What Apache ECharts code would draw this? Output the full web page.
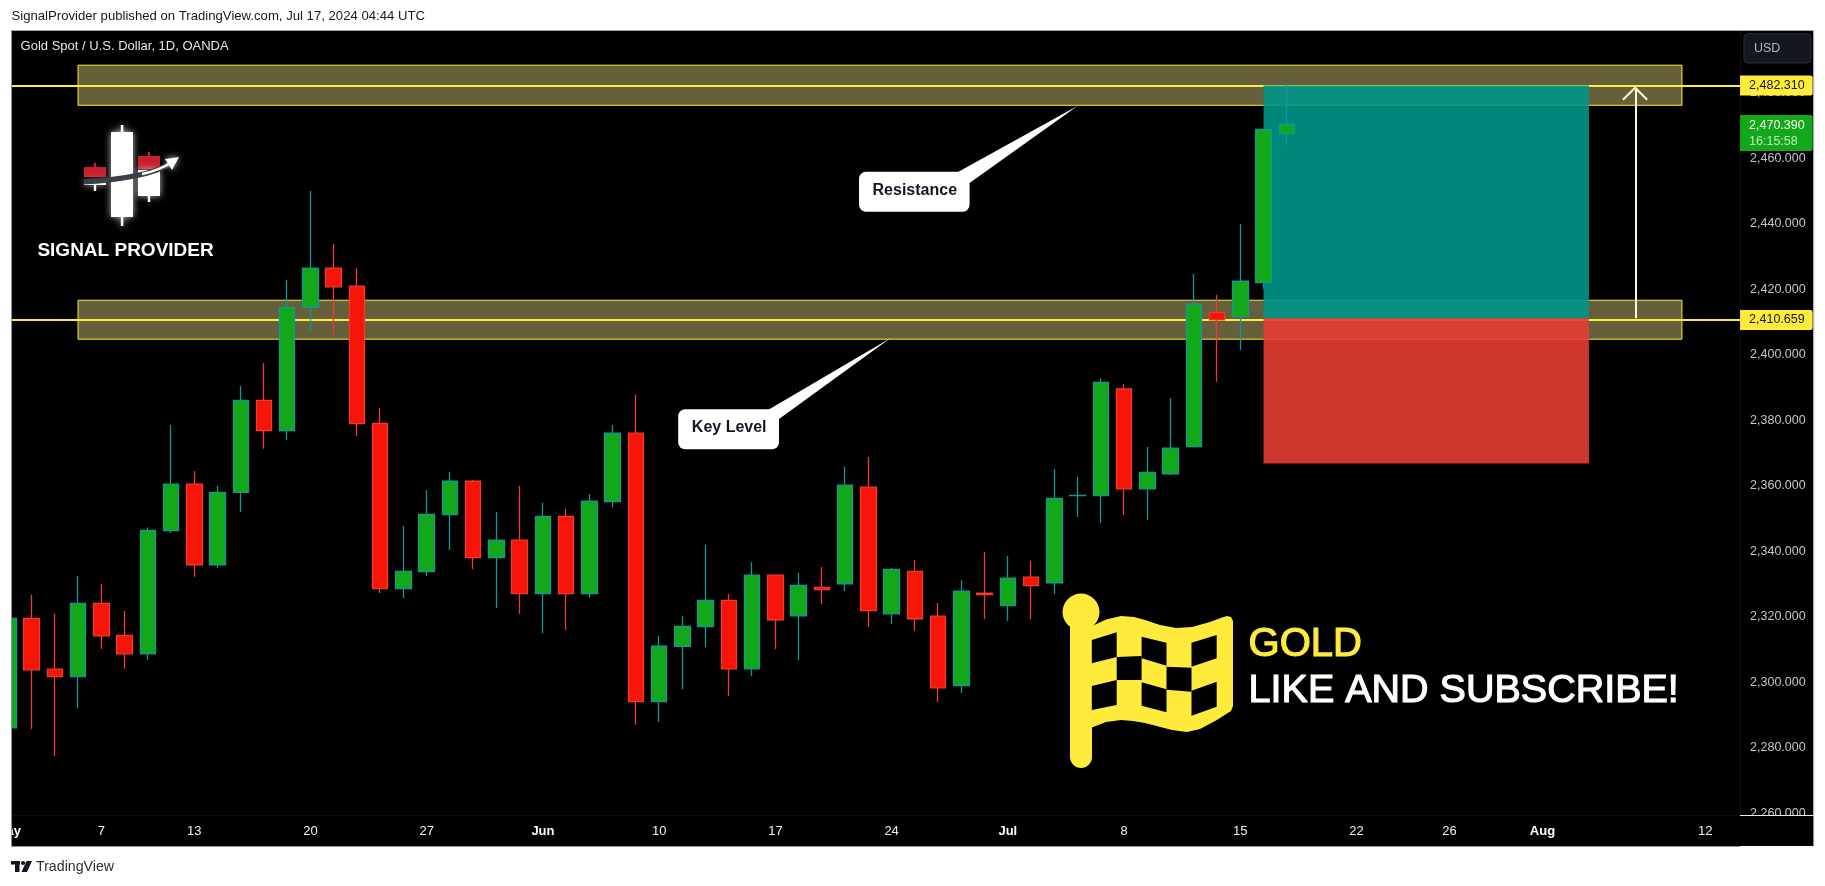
<!DOCTYPE html>
<html>
<head>
<meta charset="utf-8">
<style>html,body{margin:0;padding:0;background:#fff;overflow:hidden}#chart{width:1825px;height:886px}</style>
<script src="https://cdn.jsdelivr.net/npm/echarts@6/dist/echarts.min.js"></script>
</head>
<body>
<div id="chart"></div>
<script>
const dates = ['May 1','May 2','May 3','May 6','May 7','May 8','May 9','May 10','May 13','May 14','May 15','May 16','May 17',
 'May 20','May 21','May 22','May 23','May 24','May 27','May 28','May 29','May 30','May 31',
 'Jun 3','Jun 4','Jun 5','Jun 6','Jun 7','Jun 10','Jun 11','Jun 12','Jun 13','Jun 14',
 'Jun 17','Jun 18','Jun 19','Jun 20','Jun 21','Jun 24','Jun 25','Jun 26','Jun 27','Jun 28',
 'Jul 1','Jul 2','Jul 3','Jul 4','Jul 5','Jul 8','Jul 9','Jul 10','Jul 11','Jul 12',
 'Jul 15','Jul 16','Jul 17','Jul 18','Jul 19','Jul 22','Jul 23','Jul 24','Jul 25','Jul 26',
 'Jul 29','Jul 30','Jul 31','Aug 1','Aug 2','Aug 5','Aug 6','Aug 7','Aug 8','Aug 9','Aug 12','Aug 13'];

const tickDates  = ['May 1','May 7','May 13','May 20','May 27','Jun 3','Jun 10','Jun 17','Jun 24','Jul 1','Jul 8','Jul 15','Jul 22','Jul 26','Aug 1','Aug 12'];
const tickLabels = ['May','7','13','20','27','Jun','10','17','24','Jul','8','15','22','26','Aug','12'];
const priceTicks = [2260,2280,2300,2320,2340,2360,2380,2400,2420,2440,2460,2480];

// open, close, low, high
const ohlc = [
 [2286.1,2319.5,2286.1,2319.5],[2319.5,2303.8,2285.7,2326.7],[2304.0,2301.7,2277.5,2320.9],[2301.7,2324.1,2292.1,2332.5],
 [2324.1,2314.2,2310.2,2330.0],[2314.3,2308.7,2304.1,2321.8],[2308.7,2346.4,2306.8,2347.3],[2346.3,2360.5,2345.6,2378.6],
 [2360.5,2335.9,2332.2,2364.5],[2335.9,2358.0,2334.9,2360.0],[2358.0,2386.1,2352.0,2390.5],[2386.1,2376.9,2371.3,2397.5],
 [2376.9,2414.5,2374.0,2422.9],[2414.5,2426.5,2407.3,2450.1],[2426.5,2420.8,2406.2,2433.9],[2421.0,2379.0,2375.2,2426.5],
 [2379.1,2328.6,2327.3,2383.8],[2328.6,2333.9,2325.7,2347.7],[2333.8,2351.3,2332.5,2358.7],[2351.2,2361.4,2340.4,2364.2],
 [2361.4,2338.1,2334.6,2361.8],[2338.1,2343.4,2322.7,2352.0],[2343.4,2327.1,2320.9,2360.0],[2327.1,2350.7,2315.0,2354.8],
 [2350.7,2327.1,2316.0,2352.9],[2327.1,2355.3,2326.0,2357.5],[2355.2,2376.1,2353.5,2378.6],[2376.1,2294.1,2287.0,2387.8],
 [2294.1,2311.0,2287.9,2314.1],[2311.0,2317.1,2297.9,2320.2],[2317.0,2325.0,2310.8,2341.9],[2325.0,2304.1,2295.8,2327.0],
 [2304.1,2332.7,2301.9,2336.7],[2332.7,2319.1,2310.2,2332.7],[2320.3,2329.6,2306.8,2333.4],[2329.0,2328.3,2323.9,2335.2],
 [2330.1,2360.2,2327.9,2365.8],[2359.6,2321.9,2316.9,2368.8],[2320.9,2334.5,2317.8,2334.9],[2333.9,2319.4,2315.7,2337.3],
 [2320.2,2298.3,2294.0,2324.2],[2299.0,2327.8,2296.7,2331.2],[2327.2,2326.8,2319.3,2339.8],[2323.4,2331.8,2318.7,2338.6],
 [2332.1,2329.5,2319.3,2337.0],[2330.4,2356.2,2327.0,2365.1],[2357.0,2357.1,2350.5,2362.7],[2357.0,2391.6,2348.7,2392.9],
 [2389.6,2359.1,2351.1,2391.1],[2359.1,2364.1,2349.6,2371.9],[2363.7,2371.5,2363.3,2386.8],[2372.0,2415.5,2371.7,2424.7],
 [2413.0,2410.7,2391.8,2418.3],[2411.7,2422.5,2401.5,2440.0],[2422.1,2468.9,2420.2,2468.9],[2467.6,2470.39,2464.1,2482.5]
];

const resistanceZone = [2488.5, 2476.25];
const keyLevelZone   = [2416.7, 2404.8];
const zoneDates      = ['May 6', 'Aug 9'];
const levels         = [2482.31, 2410.659];
const lastPrice      = 2470.39;
const positionDates  = ['Jul 16', 'Aug 5'];
const positionPrices = [2482.31, 2411.2, 2366.8];   // target, entry, stop
const arrowDate      = 'Aug 7';
const arrowPrices    = [2411.2, 2481.5];

const fmt = v => v.toLocaleString('en-US', {minimumFractionDigits: 3, maximumFractionDigits: 3});
const UI = '"Liberation Sans", Arial, sans-serif';
const YEL = '#ffeb3b';

function txt(text, x, y, size, fill, extra) {
  return {type:'text', z:6, style:Object.assign({text, x, y, fill,
    font:(extra&&extra.weight||'normal')+' '+size+'px '+UI,
    textAlign:(extra&&extra.align)||'left', textVerticalAlign:'middle'},(extra&&extra.style)||{})};
}
const rect = (x,y,w,h,fill,z,extra) => ({type:'rect', z:z||6, shape:{x,y,width:w,height:h,r:(extra&&extra.r)||0},
  style:Object.assign({fill},(extra&&extra.style)||{})});
const poly = (points,fill,z,style) => ({type:'polygon', z:z||6, shape:{points}, style:Object.assign({fill},style||{})});
const glow = {shadowColor:'rgba(255,255,255,0.75)', shadowBlur:7};

const frame = [
  rect(11.5,30,1802,816,'#000',-10),
  rect(0,30,11.2,817,'#fff',100),
  rect(11,30,1,817,'#8f929b',101),
  rect(11,30,1803,1,'#a5a8b0',101),
  rect(11,846,1729,1,'#8f929b',101),
  rect(1813.5,30,1,817,'#dfe1e6',101),
  rect(1740,815.3,73.5,30.7,'#000',100),
  rect(1740,815,73.5,1,'#e8e8e8',101),
  rect(1740,30,1,785,'#0e0e0e',1),
];

const header = [
  txt('SignalProvider published on TradingView.com, Jul 17, 2024 04:44 UTC',11.5,16.5,13.15,'#131722'),
  txt('Gold Spot / U.S. Dollar, 1D, OANDA',20.6,46.7,13,'#e6e6e6'),
  rect(1744,33.7,67,29.3,'#131722',6,{r:4,style:{stroke:'#2a2e39',lineWidth:1}}),
  txt('USD',1754,48.5,12.5,'#b2b5be'),
];

const logo = [
  rect(111,132,22,85,'#fff',6,{style:glow}),
  rect(120.8,125,2.6,101,'#fff',6,{style:glow}),
  rect(84,167,22,10,'#c8202b',6),
  rect(93.8,163,2.4,5,'#c8202b',6),
  rect(84,181,22,4,'#fff',6,{style:glow}),
  rect(93.8,184,2.4,7,'#fff',6),
  rect(138,156,22,13,'#c8202b',6),
  rect(147.8,152,2.4,5,'#c8202b',6),
  rect(138,170,22,26,'#fff',6,{style:glow}),
  rect(147.8,195,2.4,7,'#fff',6),
  {type:'bezierCurve',z:7,shape:{x1:84,y1:182,cpx1:115,cpy1:180,x2:170,y2:164,cpx2:150,cpy2:176},style:{stroke:'#3a3f4a',lineWidth:5,fill:null}},
  {type:'bezierCurve',z:8,shape:{x1:142,y1:174,cpx1:152,cpy1:172,x2:172,y2:162,cpx2:163,cpy2:168},style:{stroke:'#fff',lineWidth:2.5,fill:null}},
  poly([[179,157],[165,159],[172,170]],'#fff',8,glow),
  txt('SIGNAL PROVIDER',37.4,251,19,'#fff',{weight:'bold',style:{shadowColor:'rgba(255,255,255,0.9)',shadowBlur:8}}),
];

const callouts = [
  poly([[958,172],[1077.8,105.7],[969.6,183]],'#fff',6),
  rect(859,171.7,110.6,40,'#fff',6,{r:7}),
  txt('Resistance',914.8,191,16,'#131722',{weight:'bold',align:'center'}),
  poly([[768,410],[891,337.7],[779,419]],'#fff',6),
  rect(678.2,409.3,100.8,40,'#fff',6,{r:7}),
  txt('Key Level',729.2,428,16,'#131722',{weight:'bold',align:'center'}),
];

const flagCells = [
  [[1091.8,640],[1116.7,632.3],[1116.7,657],[1091.8,663.3]],
  [[1091.8,686],[1116.7,680],[1116.7,705],[1091.8,710]],
  [[1116.7,657],[1141.6,656],[1141.6,680],[1116.7,680]],
  [[1141.6,636.7],[1166.5,642.7],[1166.5,665.7],[1141.6,658.3]],
  [[1141.6,682.3],[1166.5,689.3],[1166.5,712.3],[1141.6,705.7]],
  [[1166.5,666.7],[1191.5,667.7],[1191.5,691.7],[1166.5,689.7]],
  [[1191.5,642.7],[1216.7,635],[1216.7,658.3],[1191.5,666.7]],
  [[1191.5,690.7],[1216.7,681.7],[1216.7,706.7],[1191.5,715.7]],
];
const flag = [
  rect(1070,612,22,156,YEL,6,{r:11}),
  {type:'circle',z:6,shape:{cx:1081,cy:612,r:18.5},style:{fill:YEL}},
  poly([[1088,628],[1106,619.5],[1121,616],[1134,617],[1145,620],[1160,625],[1176,628],[1192,627],[1210,622],[1222,617.5],[1227,616],[1231,617],[1233,621],
        [1233,706],[1231,711],[1216,720.5],[1200,729],[1187,732],[1172,730],[1145,723],[1133,721],[1121,720],[1106,722],[1088,729]],YEL,6),
  ...flagCells.map(c=>poly(c,'#000',7)),
  txt('GOLD',1248.6,644.7,40,YEL,{style:{stroke:YEL,lineWidth:1.2}}),
  txt('LIKE AND SUBSCRIBE!',1248.6,690.7,39.5,'#fff',{style:{stroke:'#fff',lineWidth:1.2}}),
];

const footer = [
  rect(11,861,9,3.5,'#131722',6),
  rect(15,861,4.5,11,'#131722',6),
  {type:'circle',z:6,shape:{cx:23,cy:863,r:2.1},style:{fill:'#131722'}},
  poly([[26.5,861],[32,861],[27,872],[21.5,872]],'#131722',6),
  txt('TradingView',36,867.3,14.2,'#2a2e39'),
];

const arrowHead = {type:'polyline',z:7,shape:{points:[[1622.9,99.7],[1635.2,87.7],[1647.2,99.7]]},style:{stroke:'#fdf6d8',lineWidth:2,fill:null}};

const tagLabel = {show:true, position:'end', distance:0, color:'#131722', fontFamily:UI, fontSize:12.5,
  backgroundColor:YEL, padding:[4,8,3,9], borderRadius:[0,2,2,0]};
const zoneItem = {color:'#665f3c', borderColor:YEL, borderWidth:1};
const zoneArea = z => [{xAxis:zoneDates[0], yAxis:z[0], itemStyle:zoneItem},{xAxis:zoneDates[1], yAxis:z[1]}];

const option = {
  animation:false,
  backgroundColor:'#fff',
  tooltip:{show:false},
  grid:{left:8.3-23.245/2, top:30, width:23.245*75, height:785.7, outerBoundsMode:'none', containLabel:false},
  xAxis:{type:'category', data:dates, boundaryGap:true,
    axisLine:{show:true,lineStyle:{color:'#0e0e0e'}}, axisTick:{show:false}, splitLine:{show:false},
    axisLabel:{show:true, margin:9, interval:(i,n)=>tickDates.includes(n),
      color:'#f0f0f0', fontFamily:UI, fontSize:13,
      formatter:n=>{const l=tickLabels[tickDates.indexOf(n)]; return /[A-Z]/.test(l)?'{b|'+l+'}':l;},
      rich:{b:{fontWeight:'bold',color:'#fff',fontSize:13,fontFamily:UI}}}},
  yAxis:{type:'value', position:'right', min:2259.24, max:2499.25, scale:true,
    axisLine:{show:false}, axisTick:{show:false}, splitLine:{show:false},
    axisLabel:{show:true, customValues:priceTicks, margin:10, color:'#c4c6cc', fontFamily:UI, fontSize:12.5, formatter:fmt}},
  graphic:{elements:[...frame,...header,...logo,...callouts,...flag,...footer,arrowHead]},
  series:[
    {name:'Zones',type:'line',data:[],silent:true,
      markArea:{silent:true,z:1,data:[zoneArea(resistanceZone),zoneArea(keyLevelZone)]}},
    {name:'Levels',type:'line',data:[],silent:true,
      markLine:{silent:true,z:2,symbol:'none',lineStyle:{color:YEL,width:2,type:'solid'},
        data:levels.map(v=>({yAxis:v,label:Object.assign({formatter:fmt(v)},tagLabel)}))}},
    {name:'Position',type:'line',data:[],silent:true,
      markArea:{silent:true,z:3,data:[
        [{xAxis:positionDates[0],yAxis:positionPrices[0],itemStyle:{color:'rgba(0,150,136,0.9)'}},{xAxis:positionDates[1],yAxis:positionPrices[1]}],
        [{xAxis:positionDates[0],yAxis:positionPrices[1],itemStyle:{color:'rgba(229,60,50,0.9)'}},{xAxis:positionDates[1],yAxis:positionPrices[2]}]
      ]}},
    {name:'Arrow',type:'line',data:[],silent:true,
      markLine:{silent:true,z:4,symbol:'none',label:{show:false},lineStyle:{color:'#fdf6d8',width:2,type:'solid'},
        data:[[{xAxis:arrowDate,yAxis:arrowPrices[0]},{xAxis:arrowDate,yAxis:arrowPrices[1]}]]}},
    {name:'XAUUSD',type:'candlestick',z:5,data:ohlc,barWidth:16,silent:true,
      itemStyle:{color:'#12a81a',color0:'#f7150a',borderColor:'#12989a',borderColor0:'#f23a2e',borderWidth:1.3},
      markLine:{silent:true,z:6,symbol:'none',lineStyle:{color:'rgba(0,0,0,0)',width:0},
        data:[{yAxis:lastPrice,label:{show:true,position:'end',distance:0,offset:[0,8.5],
          formatter:'{a|'+fmt(lastPrice)+'}\n{b|16:15:58}',backgroundColor:'#12a81a',padding:[3,8,2,9],borderRadius:[0,2,2,0],
          rich:{a:{color:'#fff',fontFamily:UI,fontSize:12.5,lineHeight:16},b:{color:'#bfe8c0',fontFamily:UI,fontSize:12.5,lineHeight:15}}}}]}}
  ]
};
echarts.init(document.getElementById('chart')).setOption(option);
</script>
</body>
</html>
